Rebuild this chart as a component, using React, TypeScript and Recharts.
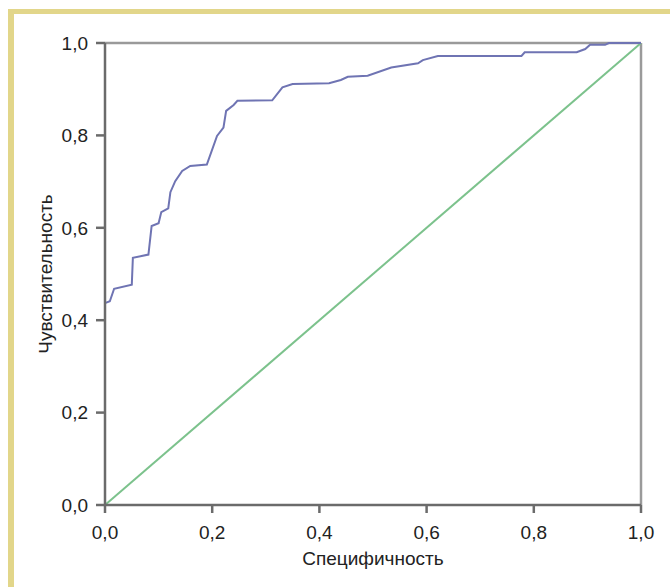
import React from 'react';
import { Label, Line, LineChart, ReferenceLine, XAxis, YAxis } from 'recharts';

// ROC curve: specificity (x) vs sensitivity (y)
const rocX = [
  0, 0, 0.009, 0.017, 0.05, 0.052, 0.081, 0.087, 0.1, 0.105, 0.118, 0.122, 0.131, 0.144, 0.159,
  0.19, 0.209, 0.221, 0.226, 0.24, 0.247, 0.312, 0.331, 0.35, 0.418, 0.44, 0.453, 0.49, 0.534,
  0.584, 0.593, 0.621, 0.777, 0.783, 0.88, 0.896, 0.905, 0.933, 0.94, 1,
];
const rocY = [
  0, 0.437, 0.441, 0.468, 0.477, 0.535, 0.542, 0.604, 0.61, 0.634, 0.642, 0.677, 0.701, 0.723, 0.734,
  0.737, 0.799, 0.817, 0.853, 0.866, 0.875, 0.876, 0.904, 0.911, 0.913, 0.92, 0.927, 0.929, 0.947,
  0.956, 0.963, 0.972, 0.972, 0.98, 0.98, 0.987, 0.996, 0.996, 1, 1,
];
const diagX = [0, 1];
const diagY = [0, 1];
const ticks = [0, 0.2, 0.4, 0.6, 0.8, 1];

const rocData = rocX.map((x, i) => ({ x, y: rocY[i] }));
const diagData = diagX.map((x, i) => ({ x, y: diagY[i] }));

const FONT = '"Liberation Sans", Arial, sans-serif';
const AXIS = '#6b6b6b';
const fmt = (v: number) => v.toFixed(1).replace('.', ',');
const tickStyle = { fill: '#222', fontSize: 19, fontFamily: FONT };

export default function App() {
  return (
    <div style={{ position: 'absolute', left: 0, top: 0, width: 670, height: 587, overflow: 'hidden', background: '#fff' }}>
      <div
        style={{
          position: 'absolute',
          left: 8,
          top: 9,
          width: 700,
          height: 620,
          borderLeft: '6px solid #e2d68a',
          borderTop: '5px solid #e2d68a',
        }}
      />
      <div style={{ position: 'absolute', left: 0, top: 0 }}>
        <LineChart width={670} height={587} margin={{ top: 43, right: 29, left: 45, bottom: 40 }}>
          <XAxis
            type="number"
            dataKey="x"
            domain={[0, 1]}
            ticks={ticks}
            tickFormatter={fmt}
            tick={tickStyle}
            tickSize={8}
            tickMargin={13}
            height={42}
            stroke={AXIS}
            strokeWidth={2.5}
            allowDuplicatedCategory={false}
          >
            <Label value="Специфичность" position="bottom" offset={5} style={{ fill: '#222', fontSize: 19, fontFamily: FONT }} />
          </XAxis>
          <YAxis
            type="number"
            dataKey="y"
            domain={[0, 1]}
            ticks={ticks}
            tickFormatter={fmt}
            tick={tickStyle}
            tickSize={9}
            tickMargin={8}
            width={60}
            stroke={AXIS}
            strokeWidth={2.5}
          >
            <Label value="Чувствительность" angle={-90} position="left" offset={0} style={{ fill: '#222', fontSize: 19, fontFamily: FONT, textAnchor: 'middle' }} />
          </YAxis>
          <ReferenceLine y={1} stroke="#9a9a9a" strokeWidth={2.5} />
          <ReferenceLine x={1} stroke="#9a9a9a" strokeWidth={2.5} />
          <Line data={diagData} dataKey="y" type="linear" stroke="#7cc28c" strokeWidth={2} dot={false} isAnimationActive={false} />
          <Line data={rocData} dataKey="y" type="linear" stroke="#6f74b3" strokeWidth={2} dot={false} isAnimationActive={false} />
        </LineChart>
      </div>
    </div>
  );
}
